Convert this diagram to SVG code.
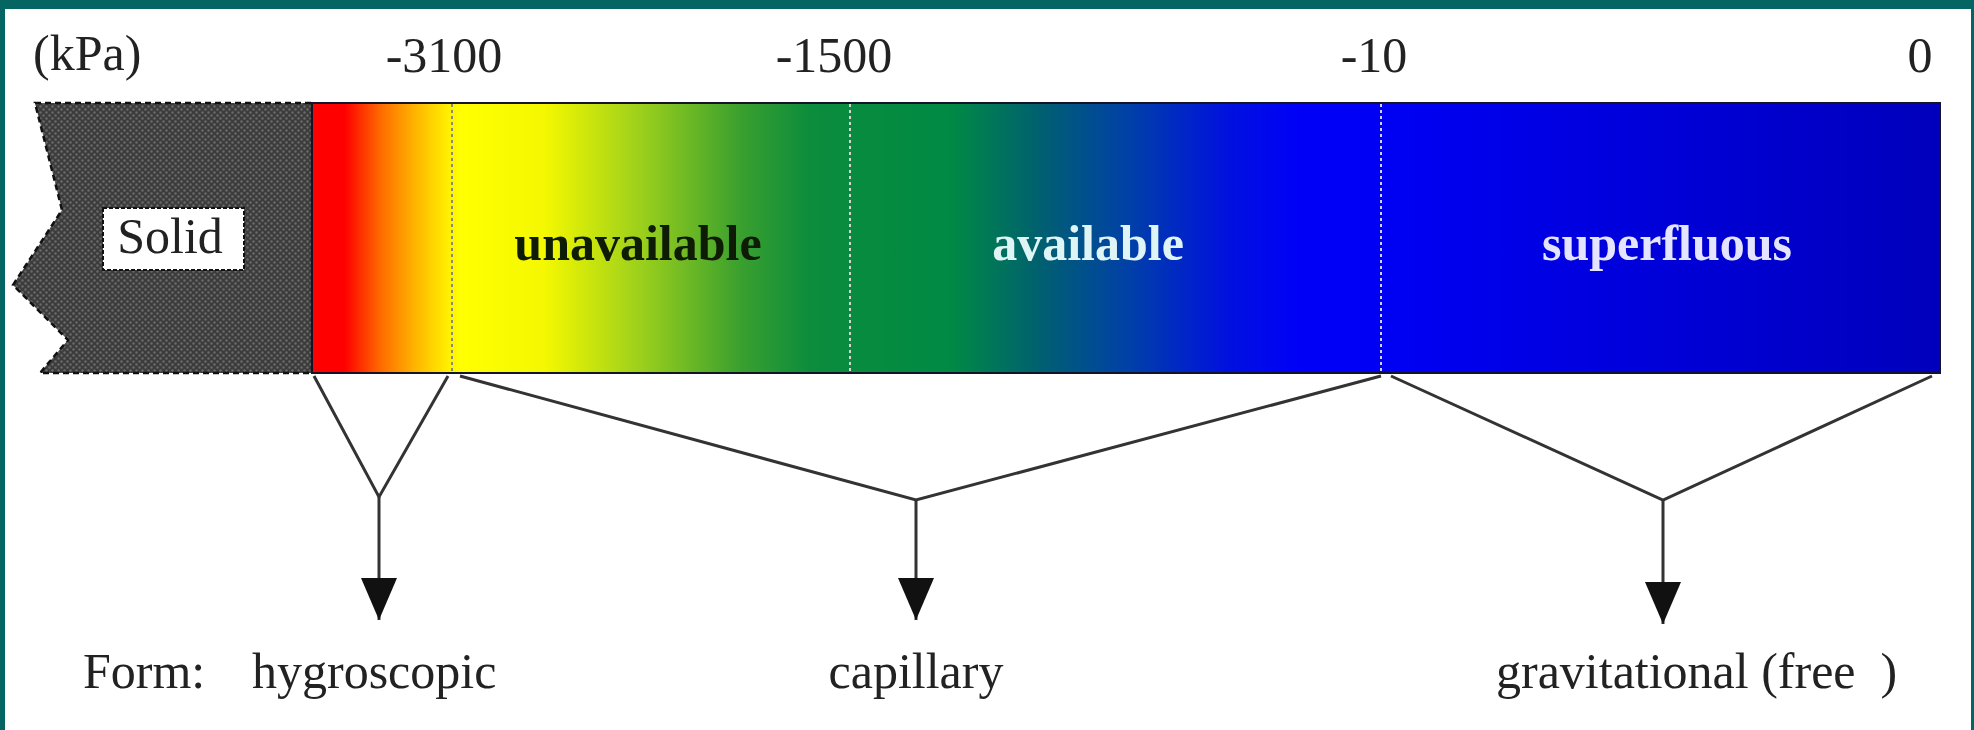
<svg xmlns="http://www.w3.org/2000/svg" width="1974" height="730" viewBox="0 0 1974 730">
<style>
  .lbl { font-family: "Liberation Serif", "Times New Roman", serif; font-size: 50px; fill: #222; }
  .zone { font-family: "Liberation Serif", "Times New Roman", serif; font-size: 50px; font-weight: bold; text-anchor: middle; }
  .conn { fill: none; stroke: #333; stroke-width: 3; stroke-linejoin: miter; }
  .stem { fill: none; stroke: #333; stroke-width: 3; marker-end: url(#arrow); }
  .div { stroke-width: 2; stroke-dasharray: 3 3; }
</style>
<defs>
  <linearGradient id="spectrum" gradientUnits="userSpaceOnUse" x1="312" y1="0" x2="1940" y2="0">
    <stop offset="0" stop-color="#ff0000"/>
    <stop offset="0.020" stop-color="#ff0000"/>
    <stop offset="0.042" stop-color="#ff6a00"/>
    <stop offset="0.063" stop-color="#ffb400"/>
    <stop offset="0.083" stop-color="#ffee00"/>
    <stop offset="0.091" stop-color="#ffff00"/>
    <stop offset="0.143" stop-color="#f4f800"/>
    <stop offset="0.2015" stop-color="#9cd01c"/>
    <stop offset="0.263" stop-color="#3aa02e"/>
    <stop offset="0.306" stop-color="#0c8c3c"/>
    <stop offset="0.392" stop-color="#008a44"/>
    <stop offset="0.447" stop-color="#006070"/>
    <stop offset="0.502" stop-color="#0040a8"/>
    <stop offset="0.564" stop-color="#0010e0"/>
    <stop offset="0.607" stop-color="#0000f8"/>
    <stop offset="0.662" stop-color="#0000f4"/>
    <stop offset="1" stop-color="#0000bc"/>
  </linearGradient>
  <pattern id="hatch" patternUnits="userSpaceOnUse" width="6" height="6">
    <rect width="6" height="6" fill="#3c3c3c"/>
    <circle cx="1.5" cy="1.5" r="1.2" fill="#6a6a6a"/>
    <circle cx="4.5" cy="4.5" r="1.2" fill="#6a6a6a"/>
  </pattern>
  <marker id="arrow" markerUnits="userSpaceOnUse" viewBox="0 0 42 36" refX="42" refY="18" markerWidth="42" markerHeight="36" orient="auto">
    <path d="M0,0 L42,18 L0,36 z" fill="#111"/>
  </marker>
</defs>

<rect x="0" y="0" width="1974" height="730" fill="#ffffff"/>
<!-- teal frame -->
<rect x="0" y="0" width="1974" height="9" fill="#046562"/>
<rect x="0" y="0" width="5" height="730" fill="#046562"/>
<rect x="1971" y="0" width="3" height="730" fill="#046562"/>

<g id="scale-labels">
  <text class="lbl" x="33" y="70">(kPa)</text>
  <text class="lbl" x="444" y="72" text-anchor="middle">-3100</text>
  <text class="lbl" x="834" y="72" text-anchor="middle">-1500</text>
  <text class="lbl" x="1374" y="72" text-anchor="middle">-10</text>
  <text class="lbl" x="1920" y="72" text-anchor="middle">0</text>
</g>

<g id="solid">
  <polygon points="35,103 312,103 312,373 40,373 68,340 13,285 62,210" fill="url(#hatch)" stroke="#111" stroke-width="2.5" stroke-dasharray="6 4"/>
  <rect x="103" y="208" width="141" height="62" fill="#ffffff" stroke="#111" stroke-width="2" stroke-dasharray="4 2"/>
  <text class="lbl" x="170" y="253" text-anchor="middle">Solid</text>
</g>

<g id="water-bar">
  <rect x="312" y="103" width="1628" height="270" fill="url(#spectrum)" stroke="#141428" stroke-width="2"/>
  <line class="div" x1="452" y1="104" x2="452" y2="372" stroke="#8a8a70"/>
  <line class="div" x1="850" y1="104" x2="850" y2="372" stroke="#d0d8d0"/>
  <line class="div" x1="1381" y1="104" x2="1381" y2="372" stroke="#d0d0f0"/>
</g>

<g id="zone-unavailable"><text class="zone" x="638" y="260" fill="#0f1c05">unavailable</text></g>
<g id="zone-available"><text class="zone" x="1088" y="260" fill="#dff4f4">available</text></g>
<g id="zone-superfluous"><text class="zone" x="1667" y="260" fill="#e4e4ff">superfluous</text></g>

<g id="connectors">
  <polyline class="conn" points="314,376 379,497 448,376"/>
  <line class="stem" x1="379" y1="497" x2="379" y2="620"/>
  <polyline class="conn" points="460,376 916,500 1381,376"/>
  <line class="stem" x1="916" y1="500" x2="916" y2="620"/>
  <polyline class="conn" points="1391,376 1663,500 1932,376"/>
  <line class="stem" x1="1663" y1="500" x2="1663" y2="624"/>
</g>

<g id="form-hygroscopic"><text class="lbl" x="83" y="688">Form:<tspan x="252">hygroscopic</tspan></text></g>
<g id="form-capillary"><text class="lbl" x="916" y="688" text-anchor="middle">capillary</text></g>
<g id="form-gravitational"><text class="lbl" x="1496" y="688" xml:space="preserve">gravitational (free  )</text></g>
</svg>
